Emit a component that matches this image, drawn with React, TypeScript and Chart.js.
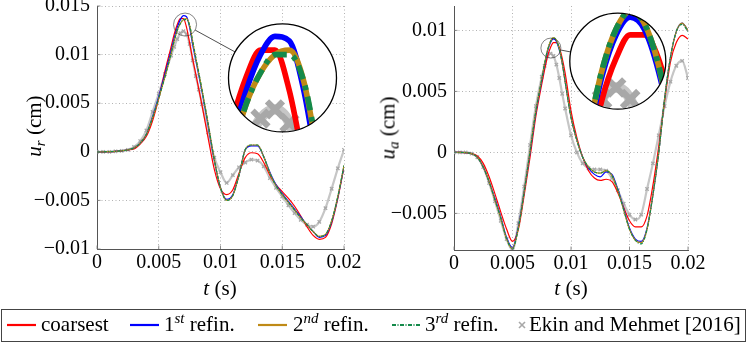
import React, { useEffect, useRef } from 'react';
import { Chart, registerables } from 'chart.js';

Chart.register(...registerables);

const FONT = "'Liberation Serif', 'DejaVu Serif', 'Noto Serif', 'Times New Roman', serif";

// ---------- Left panel (u_r) ----------
const T_LEFT = [
  0, 0.0005, 0.001, 0.0015, 0.002, 0.0025, 0.003, 0.0035, 0.004, 0.0045, 0.005, 0.0055, 0.006,
  0.00625, 0.0065, 0.00675, 0.007, 0.00725, 0.0075, 0.00775, 0.008, 0.00825, 0.0085,
  0.009, 0.0095, 0.01, 0.0105, 0.011, 0.0115, 0.012, 0.0125, 0.013, 0.0135, 0.014, 0.0145, 0.015,
  0.0155, 0.016, 0.0165, 0.017, 0.0175, 0.018, 0.0185, 0.019, 0.0195, 0.02,
];
const UR_COARSEST = [
  0, 0, 0.00002, 0.00005, 0.0001, 0.0002, 0.0003, 0.0008, 0.0016, 0.0032, 0.0055, 0.0083, 0.0108,
  0.0121, 0.0131, 0.0137, 0.0137, 0.0128, 0.0112, 0.0095, 0.008, 0.0064, 0.0048,
  0.0014, -0.0018, -0.0038, -0.0044, -0.0039, -0.0022, -0.0006, -0.0001, -0.0002, -0.0011, -0.0024, -0.0034, -0.0041,
  -0.0048, -0.0056, -0.0066, -0.0077, -0.0086, -0.009, -0.0088, -0.0074, -0.0048, -0.0016,
];
const UR_REF1 = [
  0, 0, 0.00002, 0.00005, 0.0001, 0.0002, 0.0004, 0.0009, 0.0018, 0.0036, 0.0057, 0.008, 0.0104,
  0.0117, 0.0128, 0.0136, 0.014, 0.0139, 0.0128, 0.011, 0.0094, 0.0078, 0.0062,
  0.0027, -0.0009, -0.0037, -0.0049, -0.0044, -0.0024, 0.0002, 0.0006, 0.0006, -0.0005, -0.0021, -0.0034, -0.0043,
  -0.0051, -0.0059, -0.0067, -0.0075, -0.0082, -0.0088, -0.0086, -0.0072, -0.0047, -0.0015,
];
const UR_REF2 = [
  0, 0, 0.00002, 0.00005, 0.0001, 0.0002, 0.0004, 0.0009, 0.0018, 0.0035, 0.0055, 0.0077, 0.0101,
  0.0114, 0.0125, 0.0132, 0.0136, 0.0137, 0.013, 0.0113, 0.0096, 0.008, 0.0064,
  0.0029, -0.0008, -0.0037, -0.005, -0.0045, -0.0024, 0.0002, 0.0007, 0.0007, -0.0005, -0.0022, -0.0035, -0.0044,
  -0.0052, -0.006, -0.0068, -0.0075, -0.0082, -0.0087, -0.0085, -0.0071, -0.0046, -0.0014,
];
const UR_REF3 = [
  0, 0, 0.00002, 0.00005, 0.0001, 0.0002, 0.0004, 0.0009, 0.0018, 0.0035, 0.0055, 0.0077, 0.0101,
  0.0114, 0.0125, 0.0132, 0.0136, 0.0136, 0.013, 0.0114, 0.0097, 0.0081, 0.0064,
  0.0029, -0.0008, -0.0037, -0.005, -0.0045, -0.0024, 0.0002, 0.0007, 0.0007, -0.0005, -0.0022, -0.0035, -0.0044,
  -0.0052, -0.006, -0.0068, -0.0075, -0.0082, -0.0087, -0.0085, -0.0071, -0.0046, -0.0014,
];
const UR_EKIN = [
  0, 0, 0, 0.00005, 0.0001, 0.0002, 0.0005, 0.0011, 0.0022, 0.0041, 0.006, 0.008, 0.0099,
  0.0108, 0.0116, 0.0122, 0.0124, 0.0121, 0.0111, 0.0094, 0.0078, 0.0064, 0.0049,
  0.002, -0.0006, -0.0021, -0.0032, -0.0024, -0.0016, -0.0011, -0.0008, -0.0009, -0.0015, -0.0027, -0.0037, -0.0046,
  -0.0055, -0.0063, -0.007, -0.0075, -0.0077, -0.0072, -0.0058, -0.0038, -0.0017, 0.0002,
];

// ---------- Right panel (u_a) ----------
const T_RIGHT = [
  0, 0.0005, 0.001, 0.0015, 0.002, 0.0025, 0.003, 0.0035, 0.004, 0.0045, 0.005, 0.0055, 0.006, 0.0065, 0.007, 0.0075,
  0.00775, 0.008, 0.00825, 0.0085, 0.00875, 0.009, 0.00925,
  0.0095, 0.01, 0.0105, 0.011, 0.0115, 0.012, 0.0125, 0.013, 0.0135, 0.014, 0.0145, 0.015, 0.0155, 0.016,
  0.0165, 0.017, 0.0175, 0.018, 0.0185, 0.019, 0.0195, 0.02,
];
const UA_COARSEST = [
  0, 0, -0.00002, -0.0001, -0.0003, -0.0009, -0.002, -0.0034, -0.0049, -0.0063, -0.0073, -0.0063, -0.0035, -0.0004, 0.003, 0.0056,
  0.0068, 0.0079, 0.0086, 0.009, 0.009, 0.0086, 0.0077,
  0.0065, 0.0034, 0.0012, -0.0004, -0.0015, -0.0021, -0.0023, -0.0022, -0.0024, -0.0033, -0.0045, -0.0056, -0.0061, -0.0061,
  -0.0052, -0.0027, 0.0005, 0.0042, 0.0074, 0.009, 0.0096, 0.0093,
];
const UA_REF1 = [
  0, 0, -0.00002, -0.0001, -0.0004, -0.0012, -0.0024, -0.0038, -0.0053, -0.007, -0.0078, -0.0061, -0.0032, 0.0, 0.0033, 0.0059,
  0.0072, 0.0083, 0.009, 0.0093, 0.0091, 0.0084, 0.0073,
  0.0058, 0.0029, 0.001, -0.0004, -0.0013, -0.0018, -0.002, -0.0016, -0.0018, -0.003, -0.0046, -0.0062, -0.0071, -0.0073,
  -0.0062, -0.0035, 0.0, 0.0044, 0.0078, 0.0099, 0.0106, 0.01,
];
const UA_REF2 = [
  0, 0, -0.00002, -0.0001, -0.0004, -0.0012, -0.0024, -0.0039, -0.0054, -0.0071, -0.0079, -0.0062, -0.0032, 0.0001, 0.0034, 0.006,
  0.0073, 0.0084, 0.0091, 0.0094, 0.0092, 0.0085, 0.0073,
  0.0058, 0.0029, 0.001, -0.0004, -0.0012, -0.0016, -0.0017, -0.0015, -0.0019, -0.0031, -0.0047, -0.0063, -0.0072, -0.0074,
  -0.0063, -0.0035, 0.0, 0.0044, 0.0078, 0.0099, 0.0106, 0.01,
];
const UA_REF3 = [
  0, 0, -0.00002, -0.0001, -0.0004, -0.0012, -0.0024, -0.0039, -0.0054, -0.0071, -0.0079, -0.0062, -0.0032, 0.0001, 0.0034, 0.006,
  0.0073, 0.0084, 0.0091, 0.0094, 0.0092, 0.0085, 0.0074,
  0.0058, 0.0029, 0.001, -0.0004, -0.0012, -0.0016, -0.0017, -0.0015, -0.0019, -0.0031, -0.0047, -0.0063, -0.0072, -0.0075,
  -0.0063, -0.0035, 0.0, 0.0044, 0.0078, 0.0099, 0.0105, 0.0099,
];
const UA_EKIN = [
  0, 0, 0, -0.0001, -0.0004, -0.0012, -0.0025, -0.004, -0.0056, -0.0071, -0.008, -0.0058, -0.0028, 0.0006, 0.0038, 0.0062,
  0.0071, 0.0079, 0.0081, 0.0079, 0.0072, 0.0061, 0.0048,
  0.0036, 0.0014, 0.0, -0.0009, -0.0013, -0.0014, -0.0014, -0.0015, -0.0021, -0.0031, -0.0042, -0.0051, -0.0055, -0.0051,
  -0.003, -0.0009, 0.0014, 0.0038, 0.0058, 0.0071, 0.0075, 0.0061,
];

const X_TICKS = [0, 0.005, 0.01, 0.015, 0.02];
const Y_TICKS_LEFT = [-0.01, -0.005, 0, 0.005, 0.01, 0.015];
const Y_TICKS_RIGHT = [-0.005, 0, 0.005, 0.01];

const C_COARSE = '#ff0000';
const C_REF1 = '#0000ff';
const C_REF2 = '#bf8a16';
const C_REF3 = '#148a4a';
const C_EKIN = '#a8a8a8';

type Spy = { src: [number, number]; dst: [number, number]; r: number; R: number };

function fmt(v: number): string {
  const r = Math.round(v * 1e5) / 1e5;
  if (Math.abs(r) < 1e-12) return '0';
  return (r < 0 ? '\u2212' : '') + String(Math.abs(r));
}

const toXY = (t: number[], u: number[]) => t.map((x, i) => ({ x, y: u[i] }));

function buildDatasets(t: number[], coarse: number[], r1: number[], r2: number[], r3: number[], ekin: number[]) {
  const base = { pointRadius: 0, borderWidth: 1.2, fill: false, cubicInterpolationMode: 'monotone' as const };
  return [
    { ...base, label: '3rd refin.', data: toXY(t, r3), borderColor: C_REF3, borderDash: [3, 1.4, 1, 1.4] },
    { ...base, label: '2nd refin.', data: toXY(t, r2), borderColor: C_REF2 },
    { ...base, label: '1st refin.', data: toXY(t, r1), borderColor: C_REF1 },
    { ...base, label: 'coarsest', data: toXY(t, coarse), borderColor: C_COARSE },
    {
      label: 'Ekin and Mehmet [2016]',
      data: toXY(t, ekin),
      borderColor: '#c6c6c6',
      borderWidth: 2.2,
      fill: false,
      cubicInterpolationMode: 'monotone' as const,
      pointStyle: 'crossRot' as const,
      pointRadius: 2.4,
      pointBorderWidth: 1.3,
      pointBorderColor: C_EKIN,
      pointBackgroundColor: C_EKIN,
    },
  ];
}

function spyPlugin(spy: Spy) {
  return {
    id: 'spy',
    afterDraw(chart: any) {
      const ctx: CanvasRenderingContext2D = chart.ctx;
      const xs = chart.scales.x;
      const ys = chart.scales.y;
      const sx = xs.getPixelForValue(spy.src[0]);
      const sy = ys.getPixelForValue(spy.src[1]);
      const dx = xs.getPixelForValue(spy.dst[0]);
      const dy = ys.getPixelForValue(spy.dst[1]);
      const k = spy.R / spy.r;
      const a = Math.atan2(dy - sy, dx - sx);
      ctx.save();
      ctx.setLineDash([]);
      ctx.strokeStyle = '#222';
      ctx.lineWidth = 0.8;
      ctx.beginPath();
      ctx.moveTo(sx + spy.r * Math.cos(a), sy + spy.r * Math.sin(a));
      ctx.lineTo(dx - spy.R * Math.cos(a), dy - spy.R * Math.sin(a));
      ctx.stroke();
      ctx.strokeStyle = '#333';
      ctx.lineWidth = 0.6;
      ctx.beginPath();
      ctx.arc(sx, sy, spy.r, 0, Math.PI * 2);
      ctx.stroke();

      ctx.save();
      ctx.beginPath();
      ctx.arc(dx, dy, spy.R, 0, Math.PI * 2);
      ctx.clip();
      ctx.fillStyle = '#ffffff';
      ctx.fillRect(dx - spy.R - 2, dy - spy.R - 2, 2 * spy.R + 4, 2 * spy.R + 4);
      ctx.translate(dx, dy);
      ctx.scale(k, k);
      ctx.translate(-sx, -sy);
      for (let i = chart.data.datasets.length - 1; i >= 0; i--) {
        const meta = chart.getDatasetMeta(i);
        meta.controller.draw();
      }
      ctx.restore();

      ctx.setLineDash([]);
      ctx.strokeStyle = '#000';
      ctx.lineWidth = 1.3;
      ctx.beginPath();
      ctx.arc(dx, dy, spy.R, 0, Math.PI * 2);
      ctx.stroke();
      ctx.restore();
    },
  };
}

const tickMarksPlugin = {
  id: 'tickMarks',
  afterDatasetsDraw(chart: any) {
    const ctx: CanvasRenderingContext2D = chart.ctx;
    const { left, bottom } = chart.chartArea;
    ctx.save();
    ctx.strokeStyle = '#777';
    ctx.lineWidth = 0.8;
    ctx.setLineDash([]);
    chart.scales.x.ticks.forEach((tk: any) => {
      const px = chart.scales.x.getPixelForValue(tk.value);
      ctx.beginPath();
      ctx.moveTo(px, bottom);
      ctx.lineTo(px, bottom - 3.5);
      ctx.stroke();
    });
    chart.scales.y.ticks.forEach((tk: any) => {
      const py = chart.scales.y.getPixelForValue(tk.value);
      ctx.beginPath();
      ctx.moveTo(left, py);
      ctx.lineTo(left + 3.5, py);
      ctx.stroke();
    });
    ctx.restore();
  },
};

interface PanelProps {
  left: number;
  width: number;
  height: number;
  axisWidth: number;
  padRight: number;
  xAxisHeight: number;
  yMin: number;
  yMax: number;
  yTicks: number[];
  datasets: any[];
  spy: Spy;
}

function Panel(p: PanelProps) {
  const ref = useRef<HTMLCanvasElement>(null);
  useEffect(() => {
    if (!ref.current) return;
    const tickFont = { family: FONT, size: 20 };
    const grid = { color: '#b3b3b3', lineWidth: 1, drawTicks: false, tickLength: 0 };
    const border = { display: true, color: '#555555', width: 1, dash: [1, 2.5] };
    const chart = new Chart(ref.current, {
      type: 'line',
      data: { datasets: p.datasets },
      options: {
        animation: false,
        responsive: false,
        devicePixelRatio: 1,
        events: [],
        layout: { padding: { left: 0, right: p.padRight, top: 6, bottom: 0 } },
        plugins: { legend: { display: false }, tooltip: { enabled: false } },
        scales: {
          x: {
            type: 'linear',
            min: 0,
            max: 0.02,
            afterBuildTicks: (s: any) => {
              s.ticks = X_TICKS.map((v) => ({ value: v }));
            },
            afterFit: (s: any) => {
              s.height = p.xAxisHeight;
              s.paddingLeft = 0;
              s.paddingRight = 0;
            },
            ticks: { callback: (v: any) => fmt(Number(v)), padding: 2, maxRotation: 0, autoSkip: false, color: '#000', font: tickFont },
            grid,
            border,
          },
          y: {
            type: 'linear',
            min: p.yMin,
            max: p.yMax,
            afterBuildTicks: (s: any) => {
              s.ticks = p.yTicks.map((v) => ({ value: v }));
            },
            afterFit: (s: any) => {
              s.width = p.axisWidth;
              s.paddingTop = 0;
              s.paddingBottom = 0;
            },
            ticks: { callback: (v: any) => fmt(Number(v)), padding: 7, autoSkip: false, color: '#000', font: tickFont },
            grid,
            border,
          },
        },
      } as any,
      plugins: [tickMarksPlugin, spyPlugin(p.spy)],
    });
    return () => chart.destroy();
  }, []);
  return (
    <canvas
      ref={ref}
      width={p.width}
      height={p.height}
      style={{ position: 'absolute', left: p.left, top: 0, width: p.width, height: p.height }}
    />
  );
}

const textStyle: React.CSSProperties = {
  position: 'absolute',
  fontFamily: FONT,
  fontSize: 21,
  lineHeight: '21px',
  whiteSpace: 'nowrap',
  color: '#000',
};

function Sup({ children }: { children: React.ReactNode }) {
  return (
    <span style={{ fontStyle: 'italic', fontSize: 15, position: 'relative', top: -8 }}>{children}</span>
  );
}

function LineSwatch({ x, color, dash }: { x: number; color: string; dash?: string }) {
  return (
    <svg width={30} height={6} style={{ position: 'absolute', left: x, top: 322 }}>
      <line x1={0} y1={3} x2={29} y2={3} stroke={color} strokeWidth={2.2} strokeDasharray={dash} />
    </svg>
  );
}

export default function App() {
  const leftSets = buildDatasets(T_LEFT, UR_COARSEST, UR_REF1, UR_REF2, UR_REF3, UR_EKIN);
  const rightSets = buildDatasets(T_RIGHT, UA_COARSEST, UA_REF1, UA_REF2, UA_REF3, UA_EKIN);
  return (
    <div style={{ position: 'fixed', left: 0, top: 0, width: 748, height: 343, background: '#fff', overflow: 'hidden', fontFamily: FONT }}>
      <Panel
        left={0}
        width={374}
        height={300}
        axisWidth={97}
        padRight={30}
        xAxisHeight={51}
        yMin={-0.01}
        yMax={0.015}
        yTicks={Y_TICKS_LEFT}
        datasets={leftSets}
        spy={{ src: [0.00713, 0.01309], dst: [0.01502, 0.0076], r: 11.5, R: 54 }}
      />
      <Panel
        left={374}
        width={374}
        height={300}
        axisWidth={80}
        padRight={60}
        xAxisHeight={50}
        yMin={-0.008}
        yMax={0.012}
        yTicks={Y_TICKS_RIGHT}
        datasets={rightSets}
        spy={{ src: [0.00828, 0.00855], dst: [0.014, 0.00748], r: 10, R: 48 }}
      />

      {/* axis titles */}
      <div style={{ ...textStyle, left: 220, top: 288, transform: 'translate(-50%,-50%)' }}>
        <i>t</i> (s)
      </div>
      <div style={{ ...textStyle, left: 571, top: 288, transform: 'translate(-50%,-50%)' }}>
        <i>t</i> (s)
      </div>
      <div style={{ ...textStyle, left: 35, top: 126, transform: 'translate(-50%,-50%) rotate(-90deg)' }}>
        <i>u</i>
        <span style={{ fontStyle: 'italic', fontSize: 15, position: 'relative', top: 4 }}>r</span> (cm)
      </div>
      <div style={{ ...textStyle, left: 389, top: 128, transform: 'translate(-50%,-50%) rotate(-90deg)' }}>
        <i>u</i>
        <span style={{ fontStyle: 'italic', fontSize: 15, position: 'relative', top: 4 }}>a</span> (cm)
      </div>

      {/* legend */}
      <div
        style={{
          position: 'absolute',
          left: 1,
          top: 309,
          width: 745,
          height: 33,
          boxSizing: 'border-box',
          border: '1px solid #444',
        }}
      />
      <LineSwatch x={7} color={C_COARSE} />
      <div style={{ ...textStyle, left: 41, top: 314 }}>coarsest</div>
      <LineSwatch x={130} color={C_REF1} />
      <div style={{ ...textStyle, left: 164, top: 314 }}>
        1<Sup>st</Sup> refin.
      </div>
      <LineSwatch x={258} color={C_REF2} />
      <div style={{ ...textStyle, left: 293, top: 314 }}>
        2<Sup>nd</Sup> refin.
      </div>
      <LineSwatch x={392} color={C_REF3} dash="4 1.5 1 1.5" />
      <div style={{ ...textStyle, left: 425, top: 314 }}>
        3<Sup>rd</Sup> refin.
      </div>
      <svg width={8} height={8} style={{ position: 'absolute', left: 518, top: 321 }}>
        <line x1={1} y1={1} x2={7} y2={7} stroke={C_EKIN} strokeWidth={1.6} />
        <line x1={7} y1={1} x2={1} y2={7} stroke={C_EKIN} strokeWidth={1.6} />
      </svg>
      <div style={{ ...textStyle, left: 529, top: 314 }}>Ekin and Mehmet [2016]</div>
    </div>
  );
}
